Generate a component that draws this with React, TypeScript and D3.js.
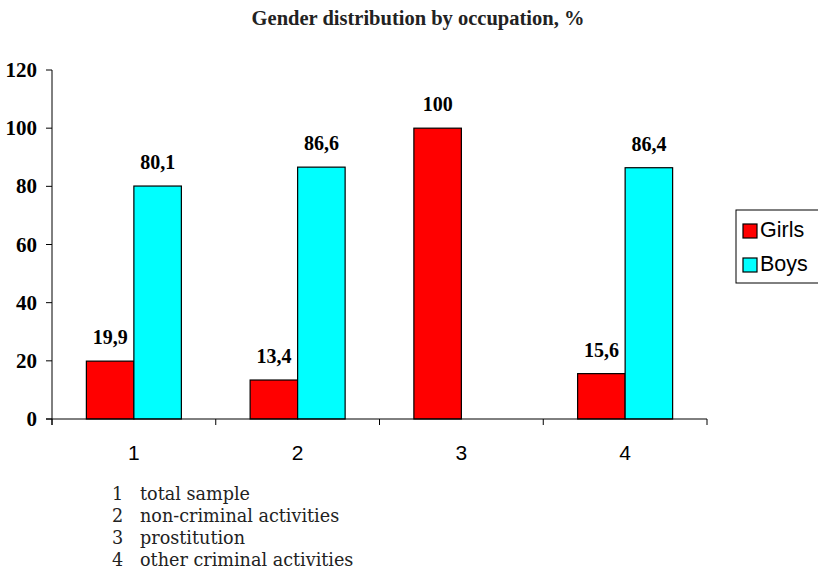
import React from "react";
import * as d3 from "d3";

const categories = ["1", "2", "3", "4"];
const seriesNames = ["Girls", "Boys"];
const girls: (number | null)[] = [19.9, 13.4, 100, 15.6];
const boys: (number | null)[] = [80.1, 86.6, null, 86.4];
const yTicks = [0, 20, 40, 60, 80, 100, 120];
const footnotes = ["total sample", "non-criminal activities", "prostitution", "other criminal activities"];
const colors = ["#FF0000", "#00FFFF"];

export default function App() {
  const W = 818, H = 582;
  const x0 = 52, x1 = 707, yTop = 70, yBot = 419;
  const x = d3.scaleBand<string>().domain(categories).range([x0, x1]).paddingInner(0).paddingOuter(0);
  const y = d3.scaleLinear().domain([0, 120]).range([yBot, yTop]);
  const bw = 47.5;
  const series = [girls, boys];
  const fmt = (v: number) => String(v).replace(".", ",");
  const serif = { fontFamily: "Liberation Serif, DejaVu Serif, serif" };
  const wideSerif = { fontFamily: "DejaVu Serif, serif" };
  const sans = { fontFamily: "Liberation Sans, Arial, sans-serif" };
  const tickXs = d3.range(categories.length + 1).map((i) => x0 + i * x.bandwidth());
  return (
    <svg width={W} height={H} style={{ position: "absolute", left: 0, top: 0, background: "#fff" }}>
      <text x={418} y={25} textAnchor="middle" style={serif} fontWeight="bold" fontSize={20.5} fill="#222">
        Gender distribution by occupation, %
      </text>
      {categories.map((c, i) => {
        const cx = (x(c) as number) + x.bandwidth() / 2;
        return series.map((s, j) => {
          const v = s[i];
          if (v == null) return null;
          const bx = cx - bw + j * bw;
          return (
            <g key={c + j}>
              <rect x={bx} y={y(v)} width={bw} height={yBot - y(v)} fill={colors[j]} stroke="#000" strokeWidth={1.2} />
              <text x={bx + bw / 2} y={y(v) - 17} textAnchor="middle" style={serif} fontWeight="bold" fontSize={20}>
                {fmt(v)}
              </text>
            </g>
          );
        });
      })}
      <line x1={x0} x2={x0} y1={yTop} y2={yBot + 6} stroke="#000" />
      {yTicks.map((t) => (
        <g key={t}>
          <line x1={x0 - 6} x2={x0} y1={y(t)} y2={y(t)} stroke="#000" />
          <text x={37} y={y(t) + 7} textAnchor="end" style={serif} fontWeight="bold" fontSize={21}>
            {t}
          </text>
        </g>
      ))}
      <line x1={x0 - 6} x2={x1} y1={yBot} y2={yBot} stroke="#000" />
      {tickXs.map((tx, i) => (
        <line key={i} x1={tx} x2={tx} y1={yBot} y2={yBot + 6} stroke="#000" />
      ))}
      {categories.map((c) => (
        <text key={c} x={(x(c) as number) + x.bandwidth() / 2} y={460} textAnchor="middle" style={sans} fontSize={21}>
          {c}
        </text>
      ))}
      <rect x={736} y={210} width={90} height={73} fill="#fff" stroke="#000" />
      {seriesNames.map((n, j) => (
        <g key={n}>
          <rect x={743} y={224 + j * 34} width={14} height={14} fill={colors[j]} stroke="#000" strokeWidth={1.2} />
          <text x={760} y={237 + j * 33.5} style={sans} fontSize={21.5}>
            {n}
          </text>
        </g>
      ))}
      {footnotes.map((f, i) => (
        <g key={f} style={wideSerif} fontSize={17.6} fill="#222">
          <text x={112} y={500 + i * 22}>{i + 1}</text>
          <text x={140} y={500 + i * 22}>{f}</text>
        </g>
      ))}
    </svg>
  );
}
